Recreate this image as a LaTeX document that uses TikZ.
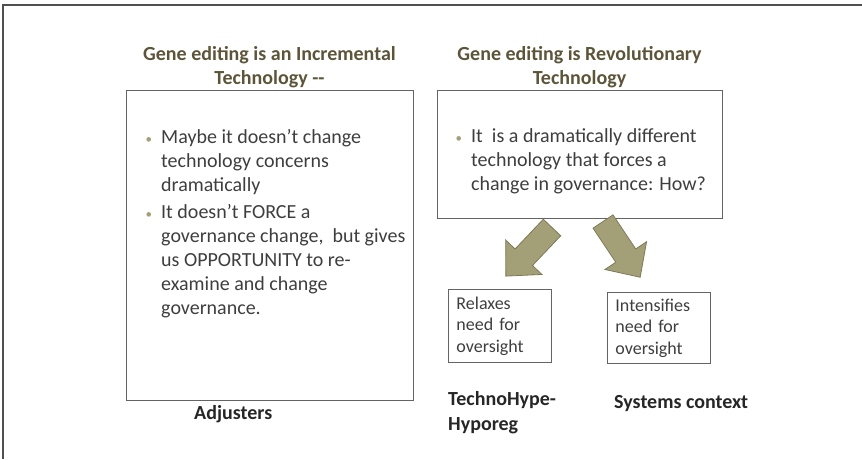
\documentclass[tikz,border=0pt]{standalone}
\usepackage{fontspec}
\setmainfont{Carlito}
\usetikzlibrary{positioning}

\definecolor{titlebrown}{RGB}{92,85,58}
\definecolor{bodygray}{RGB}{62,62,62}
\definecolor{olivefill}{RGB}{163,160,120}
\definecolor{olivedraw}{RGB}{125,121,88}
\definecolor{framegray}{RGB}{100,100,100}

\newcommand\bul{\llap{\textcolor{olivefill}{\fontsize{13}{13}\selectfont\textbullet}\hspace{9pt}}}

\tikzset{
  pics/fatarrow/.style={code={
    \draw[fill=olivefill,draw=olivedraw,line width=0.8pt,line join=miter]
      (0,12)--(41,12)--(41,25)--(67,0)--(41,-25)--(41,-12)--(0,-12)--cycle;}}
}

\begin{document}
\begin{tikzpicture}[x=1pt,y=-1pt,
  bigbox/.style={draw=framegray,line width=0.9pt,inner sep=0pt,anchor=north west},
  smallbox/.style={draw=framegray,line width=0.9pt,anchor=north west,
    minimum width=103pt,text width=87pt,inner xsep=8pt,inner ysep=0pt,align=left,
    font=\fontsize{18}{21.5}\selectfont,text=bodygray},
  heading/.style={align=center,inner sep=0pt,anchor=base,text=titlebrown,
    font=\fontsize{20}{24}\selectfont\bfseries},
  bodytext/.style={align=left,inner sep=0pt,anchor=base west,text=bodygray,
    font=\fontsize{20}{24}\selectfont},
  tag/.style={align=left,inner sep=0pt,anchor=base west,text=black!85,
    font=\fontsize{20}{24.5}\selectfont\bfseries}]

\useasboundingbox (0,0) rectangle (862,459);
\draw[framegray!80!black,line width=1.3pt] (862,5) -- (3,5) -- (3,459);

% the two main boxes
\node[bigbox,minimum width=287pt,minimum height=310pt] (incr) at (126,90) {};
\node[bigbox,minimum width=285pt,minimum height=128pt] (revo) at (437,90) {};

% headings (base = last line)
\node[heading] (incrtitle) at (269.5,84) {Gene editing is an Incremental\\Technology -{}-};
\node[heading] (revotitle) at (579.5,84) {Gene editing is Revolutionary\\Technology};

% bullet texts (base = last line)
\node[bodytext] (incrA) at (161,191) {\bul Maybe it doesn’t change\\technology concerns\\dramatically};
\node[bodytext] (incrB) at (161,314) {\bul It doesn’t FORCE a\\governance change,\ \ but gives\\us OPPORTUNITY to re-\\examine and change\\governance.};
\node[bodytext] (revoA) at (471,190) {\bul It\ \ is a dramatically different\\technology that forces a\\change in governance: How?};

% arrows out of the revolutionary box
\pic[rotate=-133.5] at (552,227.5) {fatarrow};
\pic[rotate=-56.3] at (603,221.5) {fatarrow};

\node[smallbox,minimum height=73pt] (relax) at (448,289) {Relaxes\\need for\\oversight};
\node[smallbox,minimum height=71pt] (inten) at (607,292) {Intensifies\\need for\\oversight};

\node[tag] (adjust) at (194,419) {Adjusters};
\node[tag] (hype) at (448,430) {TechnoHype-\\Hyporeg};
\node[tag] (system) at (614,408) {Systems context};
\end{tikzpicture}
\end{document}
